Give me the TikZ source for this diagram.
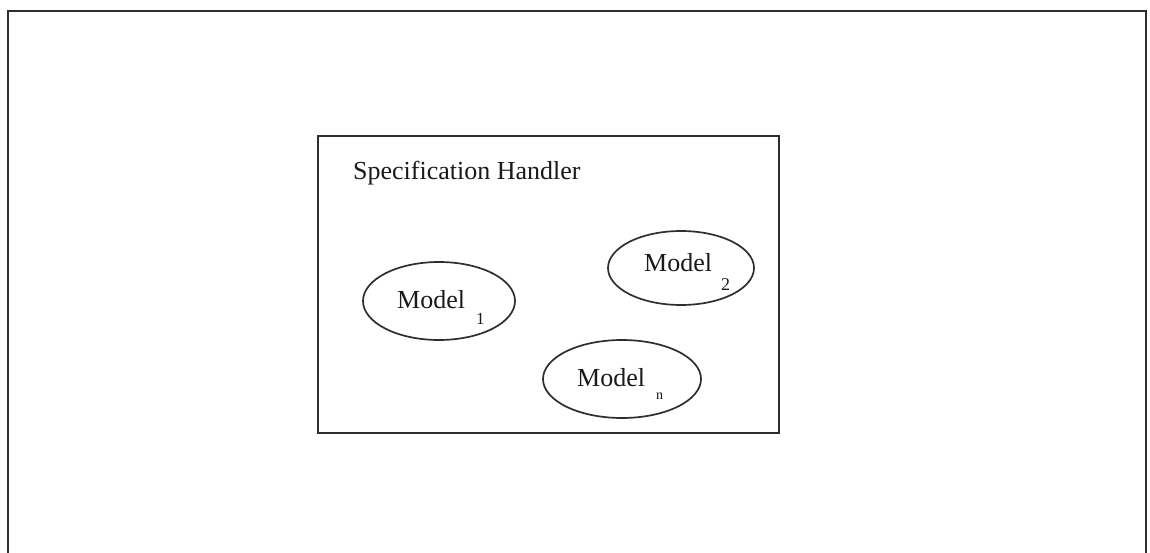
\documentclass[tikz,border=0pt]{standalone}
\usepackage{fontspec}
\setmainfont{Liberation Serif}
\usetikzlibrary{shapes.geometric}
\definecolor{linegray}{HTML}{2E2E2E}
\definecolor{inkblack}{HTML}{1A1A1A}
\tikzset{
  frameline/.style={draw=linegray, line width=2.2pt},
  boxline/.style={draw=linegray, line width=1.8pt},
  modelellipse/.style={ellipse, draw=linegray, line width=1.7pt, inner sep=0pt},
  maintext/.style={anchor=base west, inner sep=0pt, text=inkblack, font=\fontsize{26}{30}\selectfont},
  subtext/.style={anchor=base west, inner sep=0pt, text=inkblack}
}
\begin{document}
\begin{tikzpicture}[x=1pt,y=-1pt]
\useasboundingbox (0,0) rectangle (1150,553);
\fill[white] (0,0) rectangle (1150,553);
% outer frame (open at the bottom)
\coordinate (fbl) at (8,553);
\coordinate (ftl) at (8,11);
\coordinate (ftr) at (1146,11);
\coordinate (fbr) at (1146,553);
\draw[frameline, line join=miter] (fbl) -- (ftl) -- (ftr) -- (fbr);
% specification handler box
\node[boxline, rectangle, minimum width=461pt, minimum height=297pt, inner sep=0pt] (handler) at (548.5,284.5) {};
\node[maintext] (title) at (353,180) {Specification Handler};
% model ellipses
\node[modelellipse, minimum width=152pt, minimum height=78pt] (m1) at (439,301) {};
\node[modelellipse, minimum width=146pt, minimum height=74pt] (m2) at (681,268) {};
\node[modelellipse, minimum width=158pt, minimum height=78pt] (mn) at (622,379) {};
% labels
\node[maintext] (m1t) at (397,308) {Model};
\node[subtext, font=\fontsize{17}{20}\selectfont] (m1s) at (476,324) {1};
\node[maintext] (m2t) at (644,271) {Model};
\node[subtext, font=\fontsize{18}{21}\selectfont] (m2s) at (721,290) {2};
\node[maintext] (mnt) at (577,386) {Model};
\node[subtext, font=\fontsize{14}{17}\selectfont] (mns) at (656,399) {n};
\end{tikzpicture}
\end{document}
